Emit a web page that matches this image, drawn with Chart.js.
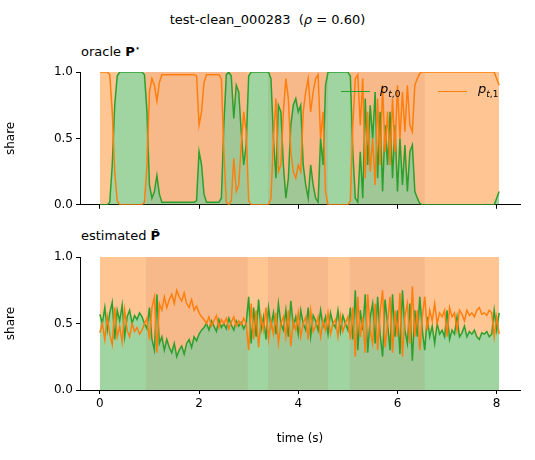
<!DOCTYPE html>
<html><head><meta charset="utf-8">
<script src="https://cdn.jsdelivr.net/npm/chart.js@4/dist/chart.umd.min.js"></script>
<style>
body{margin:0;width:535px;height:460px;position:relative;background:#fff;font-family:"DejaVu Sans",sans-serif;}
canvas{position:absolute;left:0;}
.t{position:absolute;font-size:13px;color:#000;white-space:nowrap}
.lg{position:absolute;height:0;border-top:1.5px solid}
</style></head><body>
<div class="t" style="left:0;width:535px;text-align:center;top:12px">test-clean_000283&nbsp; (<i>ρ</i> = 0.60)</div>
<div class="t" style="left:81px;top:43px">oracle <b>P</b><sup style="font-size:9px">⋆</sup></div>
<div class="t" style="left:81px;top:228px">estimated <b>P̂</b></div>
<div style="position:absolute;left:0;top:60px;width:535px;height:155px"><canvas id="c1"></canvas></div>
<div style="position:absolute;left:0;top:245px;width:535px;height:205px"><canvas id="c2"></canvas></div>
<div class="lg" style="left:341px;top:91px;width:29px;border-color:#2ca02c"></div>
<div class="t" style="left:380px;top:81px"><i>p</i><sub style="font-size:9px"><i>t</i>,0</sub></div>
<div class="lg" style="left:438px;top:91px;width:29px;border-color:#ff7f0e"></div>
<div class="t" style="left:478px;top:81px"><i>p</i><sub style="font-size:9px"><i>t</i>,1</sub></div>
<script>
const step = 0.05;
const oracleP0 = [0,0,0,0,0.02,0.3,0.75,0.97,1,1,1,1,1,1,1,1,1,1,0.98,0.7,0.15,0.05,0.1,0.22,0.08,
0.02,0.02,0.02,0.02,0.02,0.02,0.02,0.02,0.02,0.02,0.02,0.02,0.02,0.02,0.03,0.4,0.3,0.08,0.02,
0.02,0.02,0.02,0.02,0.02,0.05,0.6,0.98,1,0.97,0.65,0.9,0.85,0.55,0.3,0.45,0.97,
1,1,1,1,1,1,1,1,0.95,0.5,0.2,0.75,0.7,0.3,0.05,0.2,0.6,0.75,0.8,0.7,0.75,0.3,0.15,0.05,0.3,0.15,0.05,0.02,0.5,0.3,0.9,1,
1,1,1,1,1,1,1,1,0.97,0.4,0.05,0.02,0.4,0.05,0.8,0.3,0.75,0.5,0.85,0.2,0.7,0.1,0.6,0.3,0.7,0.2,0.6,0.1,0.5,0.15,0.45,0.1,0.4,0.45,0.1,0.05,0.01,
0,0,0,0,0,0,0,0,0,0,0,0,0,0,0,0,0,0,0,0,0,0,0,0,0,0,0,0,0,0,0.05,0.1];
const estP0 = [0.57,0.5,0.62,0.45,0.58,0.66,0.38,0.6,0.52,0.64,0.4,0.55,0.6,0.5,0.56,0.53,0.58,0.55,
0.5,0.46,0.62,0.38,
0.3,0.72,0.35,0.4,0.3,0.38,0.32,0.28,0.35,0.25,0.3,0.33,0.27,0.35,0.38,0.32,0.4,0.37,0.42,0.45,
0.47,0.5,0.45,0.52,0.48,0.44,0.53,0.47,0.5,0.46,0.54,0.49,0.45,0.52,0.48,0.51,0.46,0.5,
0.7,0.35,0.62,0.4,0.68,0.45,0.55,0.38,0.62,0.48,0.58,0.42,0.65,0.5,0.45,0.6,0.4,0.67,0.48,0.55,0.42,0.6,0.5,0.45,0.62,0.4,0.56,0.52,0.45,0.6,0.48,0.55,0.42,0.58,0.5,0.47,0.6,0.44,0.56,0.5,
0.45,0.62,0.38,0.75,0.3,0.6,0.45,0.72,0.28,0.55,0.65,0.35,0.7,0.42,0.25,0.68,0.5,0.3,0.72,0.4,0.6,0.27,0.75,0.45,0.35,0.65,0.22,0.6,0.4,0.7,
0.45,0.3,0.55,0.4,0.48,0.35,0.5,0.42,0.45,0.4,0.6,0.38,0.45,0.42,0.55,0.4,0.43,0.48,0.4,0.44,0.42,0.45,0.4,0.38,0.43,0.42,0.44,0.4,0.42,0.6,0.45,0.58];
const bandStarts = [0.93, 3.39, 5.04];
const bandEnds = [2.98, 4.6, 6.55];
const xTicks = [0,2,4,6,8];
const yTicks = [0,0.5,1];

const bandPlugin = {id:'bands', afterDatasetDraw(chart,args){
  if(args.index!==2) return;
  const {ctx,chartArea:a,scales:{x,y}}=chart;
  ctx.save(); ctx.fillStyle='rgba(170,70,60,0.09)';
  for(let i=0;i<bandStarts.length;i++){
    const x0=x.getPixelForValue(bandStarts[i]), x1=x.getPixelForValue(bandEnds[i]);
    ctx.fillRect(x0,y.getPixelForValue(1),x1-x0,y.getPixelForValue(0)-y.getPixelForValue(1));
  }
  ctx.restore();
}};

function make(id, p0, showLabels){
  const pts0 = p0.map((v,i)=>({x:i*step,y:v}));
  const pts1 = p0.map((v,i)=>({x:i*step,y:1-v}));
  const top = p0.map((v,i)=>({x:i*step,y:1}));
  const font={family:'DejaVu Sans',size:12};
  new Chart(document.getElementById(id),{
    type:'line',
    data:{datasets:[
      {data:pts1,borderColor:'#ff7f0e',borderWidth:1.5,pointRadius:0,fill:false},
      {data:pts0,borderColor:'#2ca02c',borderWidth:1.5,pointRadius:0,fill:false},
      {data:pts0,borderWidth:0,pointRadius:0,fill:'origin',backgroundColor:'rgba(44,160,44,0.45)'},
      {data:top,borderWidth:0,pointRadius:0,fill:'-1',backgroundColor:'rgba(255,127,14,0.45)'}
    ]},
    options:{animation:false,responsive:true,maintainAspectRatio:false,
      layout:{padding:{top:12,right:15,left:0,bottom:0}},
      plugins:{legend:{display:false},tooltip:{enabled:false}},
      elements:{line:{tension:0}},
      scales:{
        x:{type:'linear',min:-0.4,max:8.47,
          afterBuildTicks(s){s.ticks=xTicks.map(v=>({value:v}));},
          afterFit(s){s.height=showLabels?60:10;},
          grid:{display:true,drawOnChartArea:false,tickLength:4,color:'#000',tickWidth:1},
          border:{display:true,color:'#000',width:1},
          ticks:{display:showLabels,color:'#000',font,padding:3,callback:v=>String(v)},
          title:{display:showLabels,text:'time (s)',color:'#000',font,padding:{top:6}}},
        y:{min:0,max:1,
          afterBuildTicks(s){s.ticks=yTicks.map(v=>({value:v}));},
          afterFit(s){s.width=80;},
          grid:{display:true,drawOnChartArea:false,tickLength:4,color:'#000',tickWidth:1},
          border:{display:true,color:'#000',width:1},
          ticks:{color:'#000',font,padding:3,callback:v=>Number(v).toFixed(1)},
          title:{display:true,text:'share',color:'#000',font,padding:{bottom:8}}}
      }},
    plugins:[bandPlugin]
  });
}
make('c1',oracleP0,false);
make('c2',estP0,true);
</script></body></html>
